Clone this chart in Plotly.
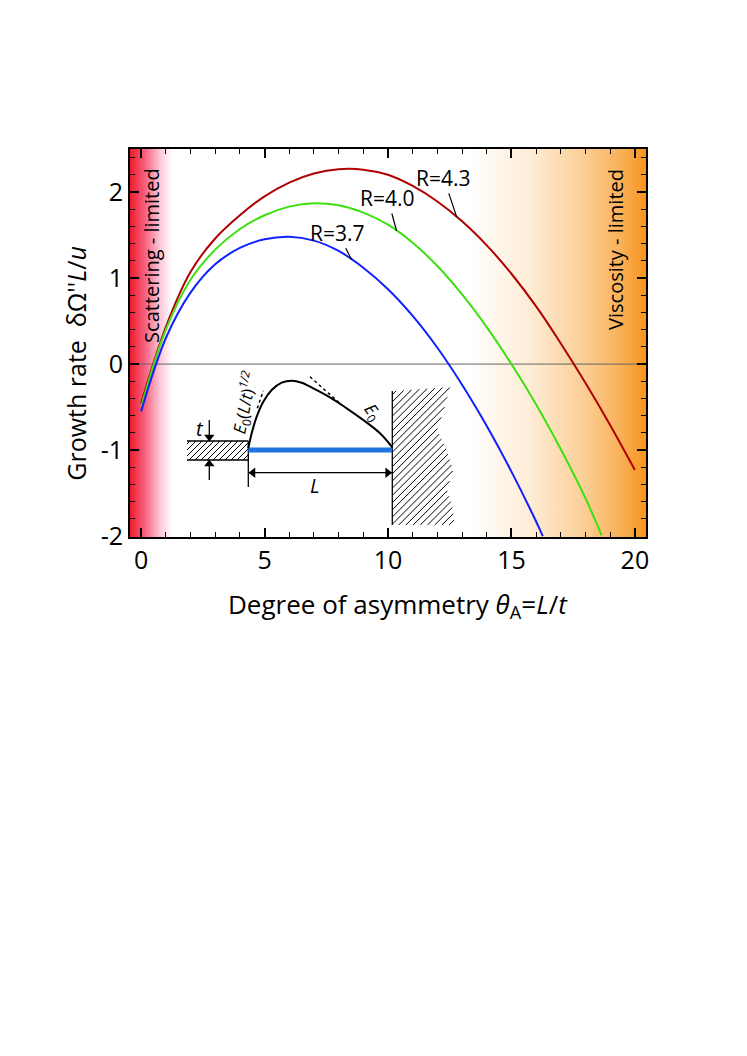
import numpy as np
import plotly.graph_objects as go

# growth rate, theta_A = L/t on x
theta_r43 = [0, 1, 2, 3, 4, 5, 6, 7, 8, 9, 10, 11, 12, 13, 14, 15, 16, 17, 18, 19, 20]
rate_r43 = [-0.46, 0.43, 1.07, 1.46, 1.73, 1.95, 2.11, 2.215, 2.265, 2.26, 2.2, 2.07, 1.89, 1.66,
            1.38, 1.05, 0.67, 0.24, -0.22, -0.71, -1.23]

theta_r40 = [0, 1, 2, 3, 4, 5, 6, 7, 8, 9, 10, 11, 12, 13, 14, 15, 16, 17, 18, 18.65]
rate_r40 = [-0.5, 0.4, 0.98, 1.33, 1.57, 1.73, 1.83, 1.87, 1.845, 1.76, 1.62, 1.41, 1.14, 0.81,
            0.43, 0.0, -0.47, -0.99, -1.56, -1.99]

theta_r37 = [0, 1, 2, 3, 4, 5, 6, 7, 8, 9, 10, 11, 12, 13, 14, 15, 16, 16.27]
rate_r37 = [-0.55, 0.3, 0.83, 1.16, 1.35, 1.45, 1.48, 1.435, 1.315, 1.12, 0.87, 0.56, 0.19, -0.24,
            -0.72, -1.25, -1.83, -2.0]

curve_names = ["R=4.3", "R=4.0", "R=3.7"]
curve_colors = ["#b00000", "#3de010", "#1020ff"]
label_theta = [12.78, 10.35, 8.53]          # where the leader line meets the curve
label_shift = [(-13, -39), (-9, -33), (-14, -27)]

x_ticks = [0, 5, 10, 15, 20]
y_ticks = [-2, -1, 0, 1, 2]
y_tick_text = ["-2", "-1", "0", "1", "2"]

X_RANGE = [-0.45, 20.45]
Y_RANGE = [-2.01, 2.5]

# inset sketch, local units (px-like, v grows downward)
sketch_u = [68.3, 71.7, 76.7, 83.3, 91.7, 101.7, 111.7, 121.7, 133.3, 150, 166.7, 183.3, 200, 212.3]
sketch_v = [118.3, 103.3, 86.7, 71.7, 60, 52.7, 50.7, 52.7, 58.3, 67.3, 78.3, 90, 103.3, 117.3]
wall_u = [212.3, 270, 263, 257, 267, 273, 267, 272, 275, 212.3]
wall_v = [61, 57, 83, 100, 120, 140, 160, 175, 195, 195]
block_u = [7, 68.3, 68.3, 7]
block_v = [111, 111, 130, 130]

FONT = "Open Sans"


def inside_poly(x, y, px, py):
    res = np.zeros(len(x), dtype=bool)
    j = len(px) - 1
    for i in range(len(px)):
        cross = (py[i] > y) != (py[j] > y)
        xint = (px[j] - px[i]) * (y - py[i]) / (py[j] - py[i] + 1e-12) + px[i]
        res ^= cross & (x < xint)
        j = i
    return res


def hatch(poly_u, poly_v, step):
    # "/" hatching: lines u + v = c, clipped to the polygon
    pu, pv = np.array(poly_u, float), np.array(poly_v, float)
    us, vs = [], []
    t = np.linspace(pu.min(), pu.max(), 600)
    for c in np.arange((pu + pv).min() + step / 2, (pu + pv).max(), step):
        vv = c - t
        ins = inside_poly(t, vv, pu, pv)
        edges = np.flatnonzero(np.diff(np.r_[0, ins.astype(int), 0]))
        for a, b in zip(edges[::2], edges[1::2]):
            us += [t[a], t[b - 1], None]
            vs += [vv[a], vv[b - 1], None]
    return us, vs


fig = go.Figure()

# shaded regimes
fig.add_trace(go.Scatter(
    x=[X_RANGE[0], 1.25, 1.25, X_RANGE[0]], y=[Y_RANGE[0], Y_RANGE[0], Y_RANGE[1], Y_RANGE[1]],
    fill="toself", mode="none", hoverinfo="skip", showlegend=False,
    fillgradient=dict(type="horizontal", start=X_RANGE[0], stop=1.25,
                      colorscale=[[0, "rgb(238,28,45)"], [0.35, "rgb(245,95,125)"],
                                  [0.7, "rgb(252,195,212)"], [1, "rgb(255,255,255)"]])
))
fig.add_trace(go.Scatter(
    x=[13.3, X_RANGE[1], X_RANGE[1], 13.3], y=[Y_RANGE[0], Y_RANGE[0], Y_RANGE[1], Y_RANGE[1]],
    fill="toself", mode="none", hoverinfo="skip", showlegend=False,
    fillgradient=dict(type="horizontal", start=13.3, stop=X_RANGE[1],
                      colorscale=[[0, "rgb(255,255,255)"], [0.35, "rgb(254,236,212)"],
                                  [0.65, "rgb(251,206,150)"], [0.85, "rgb(249,178,90)"],
                                  [1, "rgb(247,148,30)"]])
))

# zero line
fig.add_trace(go.Scatter(x=X_RANGE, y=[0, 0], mode="lines", line=dict(color="rgb(100,100,100)", width=1),
                         hoverinfo="skip", showlegend=False))

for th, rt, name, col in zip([theta_r43, theta_r40, theta_r37], [rate_r43, rate_r40, rate_r37],
                             curve_names, curve_colors):
    fig.add_trace(go.Scatter(x=th, y=rt, mode="lines", name=name,
                             line=dict(color=col, width=2, shape="spline", smoothing=1.0),
                             showlegend=False))

# curve labels with leaders
for th, rt, name, lt, (ax, ay) in zip([theta_r43, theta_r40, theta_r37], [rate_r43, rate_r40, rate_r37],
                                      curve_names, label_theta, label_shift):
    fig.add_annotation(x=lt, y=float(np.interp(lt, th, rt)), text=name, showarrow=True,
                       arrowhead=0, arrowwidth=1.2, arrowcolor="black", ax=ax, ay=ay,
                       standoff=0, font=dict(family=FONT, size=21, color="black"))

# ---- inset sketch ----
for pu, pv, step in [(wall_u, wall_v, 7.2), (block_u, block_v, 6)]:
    hu, hv = hatch(pu, pv, step)
    fig.add_trace(go.Scatter(x=hu, y=hv, xaxis="x2", yaxis="y2", mode="lines",
                             line=dict(color="black", width=1), hoverinfo="skip", showlegend=False))

thin = dict(color="black", width=1.3)
for uu, vv in [([7, 68.3], [111, 111]), ([7, 68.3], [130, 130]), ([68.3, 68.3], [111, 157]),
               ([212.3, 212.3], [61, 195]), ([68.3, 212.3], [142.7, 142.7]),
               ([29.3, 29.3], [90, 108]), ([29.3, 29.3], [133, 150])]:
    fig.add_trace(go.Scatter(x=uu, y=vv, xaxis="x2", yaxis="y2", mode="lines", line=thin,
                             hoverinfo="skip", showlegend=False))

# arrow heads as triangle markers
for uu, vv, sym in [(73, 142.7, "triangle-left"), (207.6, 142.7, "triangle-right"),
                    (29.3, 107, "triangle-down"), (29.3, 134, "triangle-up")]:
    fig.add_trace(go.Scatter(x=[uu], y=[vv], xaxis="x2", yaxis="y2", mode="markers",
                             marker=dict(symbol=sym, size=9, color="black", line=dict(width=0)),
                             hoverinfo="skip", showlegend=False))

fig.add_trace(go.Scatter(x=[68.3, 212.3], y=[120, 120], xaxis="x2", yaxis="y2", mode="lines",
                         line=dict(color="rgb(30,115,220)", width=5), hoverinfo="skip", showlegend=False))
fig.add_trace(go.Scatter(x=sketch_u, y=sketch_v, xaxis="x2", yaxis="y2", mode="lines",
                         line=dict(color="black", width=2, shape="spline"), hoverinfo="skip", showlegend=False))
for uu, vv in [([77.3, 83.3], [78.3, 60.7]), ([130, 161.7], [46.7, 75])]:
    fig.add_trace(go.Scatter(x=uu, y=vv, xaxis="x2", yaxis="y2", mode="lines",
                             line=dict(color="black", width=1.5, dash="dot"), hoverinfo="skip", showlegend=False))

inset_txt = dict(xref="x2", yref="y2", showarrow=False, xanchor="center", yanchor="middle")
fig.add_annotation(x=20, y=98, text="<i>t</i>", font=dict(family=FONT, size=20, color="black"), **inset_txt)
fig.add_annotation(x=135, y=155, text="<i>L</i>", font=dict(family=FONT, size=20, color="black"), **inset_txt)
fig.add_annotation(x=64, y=73, text="<i>E</i><sub>0</sub>(<i>L</i>/<i>t</i>)<sup><i>1/2</i></sup>",
                   textangle=-79, font=dict(family=FONT, size=17, color="black"), **inset_txt)
fig.add_annotation(x=193, y=82, text="<i>E</i><sub>0</sub>", textangle=55,
                   font=dict(family=FONT, size=17, color="black"), **inset_txt)

# regime labels and axis titles
side = dict(xref="paper", yref="paper", showarrow=False, textangle=-90, xanchor="center", yanchor="middle")
fig.add_annotation(x=0.0426, y=0.727, text="Scattering - limited",
                   font=dict(family=FONT, size=20, color="black"), **side)
fig.add_annotation(x=0.942, y=0.740, text="Viscosity - limited",
                   font=dict(family=FONT, size=20, color="black"), **side)
fig.add_annotation(x=-0.1047, y=0.449, text="Growth rate  δΩ''<i>L</i>/<i>u</i>",
                   font=dict(family=FONT, size=25, color="black"), **side)
fig.add_annotation(x=0.519, y=-0.175, xref="paper", yref="paper", showarrow=False,
                   xanchor="center", yanchor="middle",
                   text="Degree of asymmetry <i>θ</i><sub>A</sub>=<i>L</i>/<i>t</i>",
                   font=dict(family=FONT, size=26, color="black"))

# page body adds an 8px offset, margins compensate for it
fig.update_layout(
    width=747, height=1056,
    margin=dict(l=122, r=109, t=141, b=527),
    paper_bgcolor="white", plot_bgcolor="rgba(0,0,0,0)",
    font=dict(family=FONT, color="black"),
    xaxis=dict(range=X_RANGE, tickmode="array", tickvals=x_ticks, ticks="inside", ticklen=9,
               tickwidth=1.5, tickcolor="black", showline=True, linecolor="black", linewidth=2,
               mirror="ticks", showgrid=False, zeroline=False,
               tickfont=dict(family=FONT, size=25, color="black"),
               minor=dict(tickmode="linear", tick0=0, dtick=1, ticks="inside", ticklen=5,
                          tickwidth=1.2, tickcolor="black")),
    yaxis=dict(range=Y_RANGE, tickmode="array", tickvals=y_ticks, ticktext=y_tick_text, ticks="inside",
               ticklen=9, tickwidth=1.5, tickcolor="black", showline=True, linecolor="black",
               linewidth=2, mirror="ticks", showgrid=False, zeroline=False,
               tickfont=dict(family=FONT, size=25, color="black"),
               minor=dict(tickmode="linear", tick0=0, dtick=0.2, ticks="inside", ticklen=5,
                          tickwidth=1.2, tickcolor="black")),
    xaxis2=dict(domain=[0.0969, 0.6783], range=[0, 300], visible=False, anchor="y2"),
    yaxis2=dict(domain=[0, 0.5335], range=[207, 0], visible=False, anchor="x2"),
)

fig.write_html("out.html")
